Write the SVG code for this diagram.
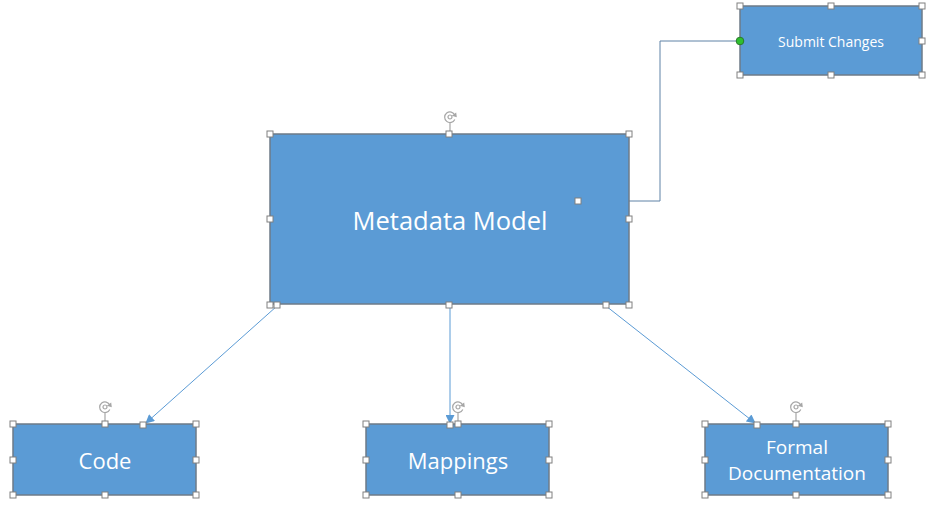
<svg xmlns="http://www.w3.org/2000/svg" width="933" height="509" viewBox="0 0 933 509">
<style>
.box{fill:#5B9BD5;stroke:#6E7B88;stroke-width:1.5}
.lbl{fill:#ffffff;font-family:"Open Sans","Noto Sans",sans-serif;text-anchor:middle}
.h{fill:#ffffff;stroke:#808080;stroke-width:1}
.arrow{stroke:#5B9BD5;stroke-width:1;fill:none}
.elbow{stroke:#5F82A6;stroke-width:1;fill:none}
.rot{stroke:#A6A6A6;stroke-width:1.2;fill:none}
</style>
<defs>
<marker id="ah" viewBox="0 0 10 10" refX="9" refY="5" markerWidth="10" markerHeight="9" orient="auto" markerUnits="userSpaceOnUse">
<path d="M0,0 L10,5 L0,10 z" fill="#5B9BD5"/>
</marker>
<g id="rotIcon">
<path class="rot" d="M4.8,-2 A5.3,5.3 0 1 0 4.8,2.4"/>
<path d="M1.8,-1.2 L6.8,0.2 L6.2,-4.6 z" fill="#A6A6A6"/>
<circle cx="0" cy="0" r="2" class="rot"/>
<line class="rot" x1="0" y1="5.5" x2="0" y2="17"/>
</g>
<rect id="hd" class="h" x="-3" y="-3" width="6" height="6"/>
</defs>
<rect width="933" height="509" fill="#ffffff"/>

<g id="connectors">
<polyline class="elbow" points="629,201 660,201 660,41 740,41"/>
<line class="arrow" x1="277" y1="306" x2="146" y2="423" marker-end="url(#ah)"/>
<line class="arrow" x1="450" y1="306" x2="450" y2="423" marker-end="url(#ah)"/>
<line class="arrow" x1="606" y1="306" x2="755" y2="423" marker-end="url(#ah)"/>
</g>

<g id="node-submit">
<rect class="box" x="740" y="6" width="182" height="69"/>
<text class="lbl" x="831" y="47" font-size="14">Submit Changes</text>
<use href="#hd" x="740" y="6"/><use href="#hd" x="831" y="6"/><use href="#hd" x="922" y="6"/>
<use href="#hd" x="922" y="41"/>
<use href="#hd" x="740" y="75"/><use href="#hd" x="831" y="75"/><use href="#hd" x="922" y="75"/>
<circle cx="740" cy="41" r="3.8" fill="#2FBF2F" stroke="#2A7A2A" stroke-width="1"/>
</g>

<g id="node-metadata">
<rect class="box" x="270" y="134" width="359" height="170"/>
<text class="lbl" x="450" y="230" font-size="25.5">Metadata Model</text>
<use href="#rotIcon" x="450" y="117"/>
<use href="#hd" x="270" y="134"/><use href="#hd" x="449" y="134"/><use href="#hd" x="629" y="134"/>
<use href="#hd" x="270" y="219"/><use href="#hd" x="629" y="219"/>
<use href="#hd" x="578" y="201"/>
<use href="#hd" x="270" y="305"/><use href="#hd" x="277" y="305"/><use href="#hd" x="449" y="305"/><use href="#hd" x="606" y="305"/><use href="#hd" x="629" y="305"/>
</g>

<g id="node-code">
<rect class="box" x="13" y="424" width="183" height="71"/>
<text class="lbl" x="105" y="469" font-size="22">Code</text>
<use href="#rotIcon" x="105" y="407"/>
<use href="#hd" x="13" y="424"/><use href="#hd" x="105" y="424"/><use href="#hd" x="143" y="425"/><use href="#hd" x="196" y="424"/>
<use href="#hd" x="13" y="460"/><use href="#hd" x="196" y="460"/>
<use href="#hd" x="13" y="495"/><use href="#hd" x="105" y="495"/><use href="#hd" x="196" y="495"/>
</g>

<g id="node-mappings">
<rect class="box" x="366" y="424" width="183" height="71"/>
<text class="lbl" x="458" y="469" font-size="22">Mappings</text>
<use href="#rotIcon" x="458" y="407"/>
<use href="#hd" x="366" y="424"/><use href="#hd" x="450" y="425"/><use href="#hd" x="458" y="424"/><use href="#hd" x="549" y="424"/>
<use href="#hd" x="366" y="460"/><use href="#hd" x="549" y="460"/>
<use href="#hd" x="366" y="495"/><use href="#hd" x="458" y="495"/><use href="#hd" x="549" y="495"/>
</g>

<g id="node-formal">
<rect class="box" x="705" y="424" width="183" height="71"/>
<text class="lbl" font-size="19"><tspan x="797" y="454">Formal</tspan><tspan x="797" y="480">Documentation</tspan></text>
<use href="#rotIcon" x="796" y="407"/>
<use href="#hd" x="705" y="424"/><use href="#hd" x="757" y="425"/><use href="#hd" x="796" y="424"/><use href="#hd" x="888" y="424"/>
<use href="#hd" x="705" y="460"/><use href="#hd" x="888" y="460"/>
<use href="#hd" x="705" y="495"/><use href="#hd" x="796" y="495"/><use href="#hd" x="888" y="495"/>
</g>
</svg>
